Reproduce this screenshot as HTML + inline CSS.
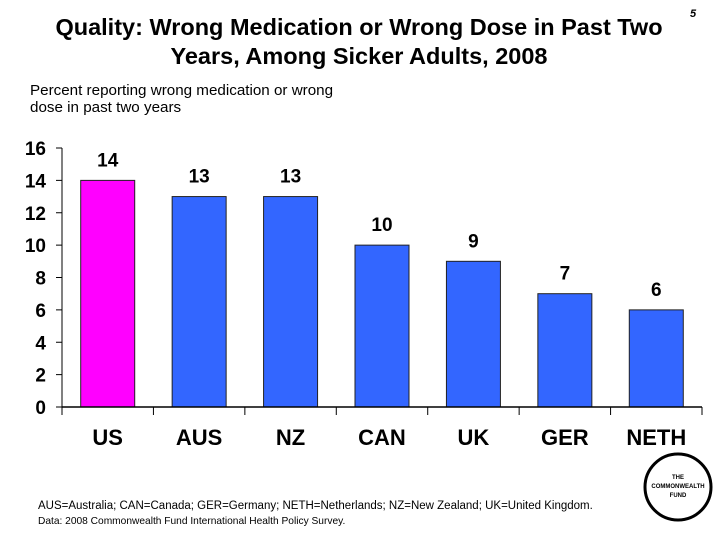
<!DOCTYPE html>
<html><head><meta charset="utf-8"><style>
body{margin:0;background:#fff;}
svg{display:block;font-family:"Liberation Sans",Arial,sans-serif;}
</style></head><body>
<svg id="c" width="720" height="540" xmlns="http://www.w3.org/2000/svg">
<text x="359" y="35" text-anchor="middle" font-size="23.5" font-weight="bold">Quality: Wrong Medication or Wrong Dose in Past Two</text>
<text x="359" y="64" text-anchor="middle" font-size="23.5" font-weight="bold">Years, Among Sicker Adults, 2008</text>
<text x="690" y="17" font-size="11" font-weight="bold" font-style="italic">5</text>
<text x="30" y="95" font-size="15.2">Percent reporting wrong medication or wrong</text>
<text x="30" y="112" font-size="15.2">dose in past two years</text>
<g id="plot"></g>
<text x="38" y="509" font-size="11.5">AUS=Australia; CAN=Canada; GER=Germany; NETH=Netherlands; NZ=New Zealand; UK=United Kingdom.</text>
<text x="38" y="524" font-size="10.2">Data: 2008 Commonwealth Fund International Health Policy Survey.</text>
<g>
<circle cx="678" cy="487" r="33" fill="none" stroke="#000" stroke-width="3"/>
<text x="678" y="479" text-anchor="middle" font-size="6" font-weight="bold">THE</text>
<text x="678" y="488" text-anchor="middle" font-size="6" font-weight="bold">COMMONWEALTH</text>
<text x="678" y="497" text-anchor="middle" font-size="6" font-weight="bold">FUND</text>
</g>
</svg>
<script>
const categories=["US","AUS","NZ","CAN","UK","GER","NETH"];
const values=[14,13,13,10,9,7,6];
const yTicks=[0,2,4,6,8,10,12,14,16];
const NS="http://www.w3.org/2000/svg";
const g=document.getElementById('plot');
const x0=62,x1=702,yB=407,yT=148,yMax=16;
const bw=(x1-x0)/categories.length;
function y(v){return yB-(v/yMax)*(yB-yT);}
function mk(t,a){const e=document.createElementNS(NS,t);for(const k in a)e.setAttribute(k,a[k]);g.appendChild(e);return e;}
values.forEach((v,i)=>{
  const cx=x0+bw*(i+0.5);
  const r=mk('rect',{x:cx-27,y:y(v),width:54,height:yB-y(v),fill:i===0?'#FF00FF':'#3366FF',stroke:'#222','stroke-width':1});
  
  
  const t=mk('text',{x:cx,y:y(v)-14,'text-anchor':'middle','font-size':19,'font-weight':'bold'});
  t.textContent=v;
  
  
  const c=mk('text',{x:cx,y:445,'text-anchor':'middle','font-size':22,'font-weight':'bold'});
  c.textContent=categories[i];
  
  
});
for(let i=0;i<=categories.length;i++){
  const l=mk('line',{x1:x0+bw*i,x2:x0+bw*i,y1:yB,y2:yB+8,stroke:'#000','stroke-width':1});
  
  
}
yTicks.forEach(v=>{
  const l=mk('line',{x1:x0-6,x2:x0,y1:y(v),y2:y(v),stroke:'#000','stroke-width':1});
  
  
  const t=mk('text',{x:46,y:y(v)+7,'text-anchor':'end','font-size':19,'font-weight':'bold'});
  t.textContent=v;
  
  
});
const ya=mk('line',{x1:x0,x2:x0,y1:yT,y2:yB,stroke:'#000','stroke-width':1});


const xa=mk('line',{x1:x0,x2:x1,y1:yB,y2:yB,stroke:'#000','stroke-width':1.5});


</script>
</body></html>
